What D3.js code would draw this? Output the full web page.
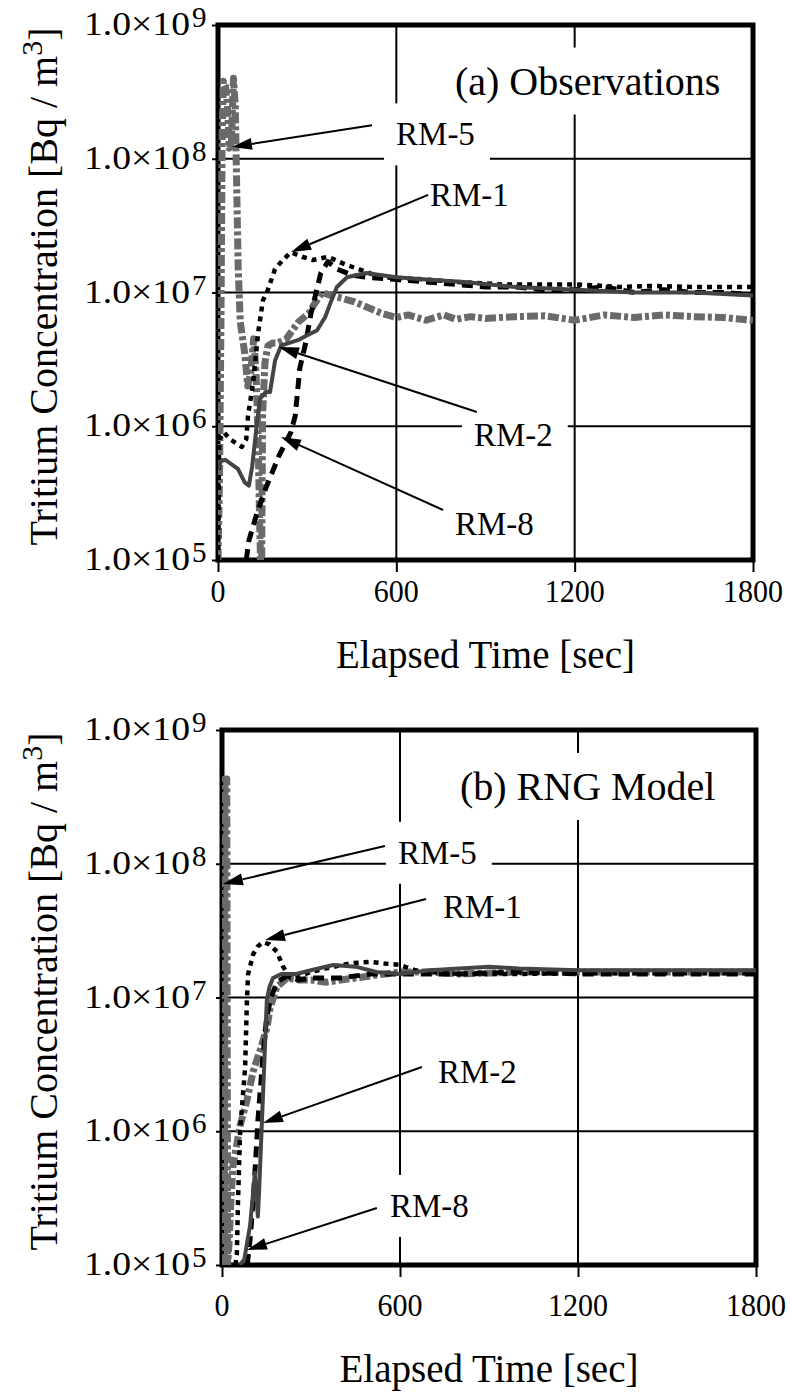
<!DOCTYPE html>
<html>
<head>
<meta charset="utf-8">
<script src="https://cdn.jsdelivr.net/npm/d3@7"></script>
<style>
  body { margin: 0; background: #fff; }
  text { font-family: "Liberation Serif", "DejaVu Serif", serif; fill: #000; }
</style>
</head>
<body>
<div id="chart"></div>
<script>
// tick values shared by both panels
var xTicks = [0, 600, 1200, 1800];
var yTicks = [1e5, 1e6, 1e7, 1e8, 1e9];
var seriesNames = ["RM-5", "RM-8", "RM-1", "RM-2"];

// (a) observations, [elapsed sec, Bq/m3]
var obsRM1 = [[0,1e5],[4,8e5],[20,9e5],[40,8e5],[60,7.5e5],[80,7e5],[95,8e5],[101,1.2e6],[118,2.1e6],[135,5e6],[151,8.7e6],
  [168,1.05e7],[192,1.5e7],[218,1.75e7],[245,2e7],[283,1.85e7],[320,1.75e7],[370,1.85e7],[420,1.65e7],[471,1.5e7],
  [548,1.3e7],[700,1.25e7],[800,1.2e7],[955,1.15e7],[1100,1.15e7],[1208,1.15e7],[1350,1.1e7],[1460,1.12e7],[1600,1.1e7],[1800,1.1e7]];
var obsRM2 = [[0,4.7e5],[10,5.5e5],[25,5.6e5],[40,5.3e5],[67,4.8e5],[90,3.8e5],[104,3.6e5],[115,5e5],[125,8e5],[130,1e6],
  [141,1.6e6],[160,1.8e6],[175,1.8e6],[192,3.1e6],[212,4e6],[240,4.2e6],[269,4.4e6],[300,4.8e6],[333,5.2e6],[350,6e6],
  [360,6.5e6],[384,9e6],[400,1.1e7],[434,1.3e7],[498,1.4e7],[600,1.3e7],[700,1.25e7],[828,1.2e7],[1000,1.1e7],
  [1208,1.05e7],[1400,1e7],[1600,1e7],[1800,9.5e6]];
var obsRM5 = [[0,1e5],[5,4e5],[10,6e6],[14,1.5e8],[18,3.8e8],[25,3.5e8],[32,2.5e8],[38,1.2e8],[45,1.3e8],[52,4e8],[58,2.5e8],
  [63,6e7],[68,1.5e7],[75,6e6],[90,3.5e6],[100,2e6],[110,2.5e6],[120,4.5e6],[128,2.5e6],[135,8e5],[140,2e5],[143,1e5],
  [147,1e5],[150,1.2e6],[158,3e6],[168,4e6],[185,4.2e6],[200,4.2e6],[230,4.5e6],[270,6e6],[306,7e6],[321,8e6],[350,1e7],
  [380,9.5e6],[420,9e6],[460,8.5e6],[500,7.8e6],[550,7e6],[600,6.5e6],[640,6.8e6],[700,6.2e6],[760,6.8e6],[800,6.3e6],
  [850,6.6e6],[900,6.4e6],[1000,6.6e6],[1100,6.7e6],[1200,6.2e6],[1300,6.8e6],[1400,6.5e6],[1500,6.8e6],[1600,6.6e6],
  [1700,6.5e6],[1800,6.2e6]];
var obsRM8 = [[95,1e5],[104,1.4e5],[130,2.2e5],[162,3.5e5],[205,6e5],[245,9e5],[260,1.2e6],[275,2.7e6],[295,4.2e6],[313,7e6],
  [330,1e7],[346,1.4e7],[370,1.7e7],[400,1.5e7],[450,1.35e7],[500,1.3e7],[600,1.25e7],[700,1.2e7],[800,1.15e7],[900,1.1e7],
  [1000,1.1e7],[1100,1.05e7],[1200,1.05e7],[1300,1.1e7],[1400,1e7],[1500,1.05e7],[1600,1e7],[1700,1e7],[1800,9.6e6]];

// (b) RNG model
var rngRM1 = [[45,1e5],[50,1.2e5],[54,3e5],[61,1e6],[78,3e6],[84,9.5e6],[88,1.5e7],[105,2.1e7],[120,2.4e7],[138,2.6e7],
  [160,2.5e7],[185,2.2e7],[206,1.7e7],[229,1.4e7],[260,1.45e7],[300,1.55e7],[350,1.65e7],[431,1.8e7],[500,1.85e7],
  [543,1.8e7],[600,1.75e7],[650,1.6e7],[700,1.55e7],[800,1.5e7],[1000,1.5e7],[1200,1.52e7],[1500,1.52e7],[1800,1.52e7]];
var rngRM2 = [[60,1e5],[75,1.1e5],[95,2e5],[111,4.9e5],[117,3e5],[121,2.3e5],[126,4e5],[134,1.1e6],[142,3e6],[151,9.5e6],
  [160,1.2e7],[172,1.4e7],[200,1.5e7],[250,1.5e7],[300,1.6e7],[375,1.75e7],[450,1.7e7],[520,1.55e7],[600,1.5e7],[700,1.6e7],
  [800,1.65e7],[900,1.7e7],[1000,1.65e7],[1200,1.6e7],[1500,1.6e7],[1800,1.6e7]];
var rngRM5 = [[8,1e5],[10,4.3e8],[16,4.3e8],[19,1e5],[24,1.5e5],[30,3e5],[37,5.5e5],[61,1.1e6],[84,1.7e6],[105,2.8e6],
  [128,4e6],[152,6e6],[162,8.3e6],[185,1.2e7],[219,1.4e7],[260,1.35e7],[300,1.35e7],[350,1.3e7],[400,1.35e7],[450,1.4e7],
  [500,1.45e7],[550,1.5e7],[600,1.55e7],[700,1.55e7],[800,1.5e7],[1000,1.55e7],[1200,1.55e7],[1500,1.55e7],[1800,1.55e7]];
var rngRM8 = [[85,1e5],[94,1.5e5],[105,3e5],[115,7e5],[121,1.2e6],[135,3e6],[150,7e6],[165,1e7],[185,1.3e7],[219,1.45e7],
  [260,1.35e7],[300,1.4e7],[400,1.4e7],[500,1.5e7],[600,1.5e7],[800,1.5e7],[1000,1.55e7],[1200,1.5e7],[1500,1.5e7],[1800,1.5e7]];

// label annotations: text start, arrow tail, arrow tip as [sec, log10 value]
var obsLabels = [
  { name: "RM-5", text: [599, 8.10], tail: [518, 8.25], tip: [47, 8.088] },
  { name: "RM-1", text: [713, 7.65], tail: [707, 7.73], tip: [246, 7.303] },
  { name: "RM-2", text: [861, 5.85], tail: [871, 6.107], tip: [205, 6.593] },
  { name: "RM-8", text: [797, 5.19], tail: [757, 5.374], tip: [212, 5.92] }
];
var rngLabels = [
  { name: "RM-5", text: [593, 8.00], tail: [549, 8.133], tip: [3, 7.849] },
  { name: "RM-1", text: [745, 7.594], tail: [688, 7.736], tip: [145, 7.43] },
  { name: "RM-2", text: [728, 6.361], tail: [674, 6.48], tip: [138, 6.062] },
  { name: "RM-8", text: [566, 5.359], tail: [522, 5.426], tip: [84, 5.112] }
];

var config = {
    width: 790,
    height: 1393,
    styles: {
        "RM-1": { color: "#000", width: 4.5, dash: "5,5" },
        "RM-2": { color: "#444", width: 4, dash: null },
        "RM-5": { color: "#6a6a6a", width: 7, dash: "11,3,4,3" },
        "RM-8": { color: "#000", width: 5, dash: "11,7" }
    },
    frameWidth: 5,
    gridWidth: 2,
    tickLabelRight: 190,
    yTitleX: 57
};

var panels = [
    { id: "a", title: "(a) Observations", titlePos: [797, 8.48],
      left: 218, right: 753, top: 25, bottom: 560, xLabelY: 602, xTitleY: 668,
      data: { "RM-1": obsRM1, "RM-2": obsRM2, "RM-5": obsRM5, "RM-8": obsRM8 }, labels: obsLabels },
    { id: "b", title: "(b) RNG Model", titlePos: [802, 8.477],
      left: 222, right: 756, top: 730, bottom: 1265, xLabelY: 1316, xTitleY: 1382,
      data: { "RM-1": rngRM1, "RM-2": rngRM2, "RM-5": rngRM5, "RM-8": rngRM8 }, labels: rngLabels }
];

var svg = d3.select("#chart").append("svg")
    .attr("width", config.width)
    .attr("height", config.height);

// white box behind a text so gridlines are broken around it
function boxBehind(g, textSel, up, down) {
    var bb = textSel.node().getBBox();
    var base = +textSel.attr("y");
    g.insert("rect", function () { return textSel.node(); })
        .attr("x", bb.x - 12).attr("y", base - up)
        .attr("width", bb.width + 27).attr("height", up + down)
        .attr("fill", "#fff");
}

function arrow(g, x1, y1, x2, y2) {
    var ang = Math.atan2(y2 - y1, x2 - x1);
    var len = 20, half = 6;
    var bx = x2 - len * Math.cos(ang), by = y2 - len * Math.sin(ang);
    g.append("line")
        .attr("x1", x1).attr("y1", y1).attr("x2", bx).attr("y2", by)
        .attr("stroke", "#000").attr("stroke-width", 2);
    var px = -Math.sin(ang) * half, py = Math.cos(ang) * half;
    g.append("path")
        .attr("d", "M" + x2 + "," + y2 + "L" + (bx + px) + "," + (by + py) + "L" + (bx - px) + "," + (by - py) + "Z")
        .attr("fill", "#000");
}

function draw(p) {
    var x = d3.scaleLinear().domain([0, 1800]).range([p.left, p.right]);
    var y = d3.scaleLog().domain([1e5, 1e9]).range([p.bottom, p.top]);
    var g = svg.append("g");

    // grid
    g.append("g").selectAll("line.h").data(yTicks.slice(1, -1)).enter().append("line")
        .attr("x1", p.left).attr("x2", p.right)
        .attr("y1", function (d) { return y(d); }).attr("y2", function (d) { return y(d); })
        .attr("stroke", "#000").attr("stroke-width", config.gridWidth);
    g.append("g").selectAll("line.v").data(xTicks.slice(1, -1)).enter().append("line")
        .attr("y1", p.top).attr("y2", p.bottom)
        .attr("x1", function (d) { return x(d); }).attr("x2", function (d) { return x(d); })
        .attr("stroke", "#000").attr("stroke-width", config.gridWidth);

    // axes ticks
    var xAxis = g.append("g").attr("transform", "translate(0," + p.bottom + ")")
        .call(d3.axisBottom(x).tickValues(xTicks).tickSize(12).tickFormat(""));
    xAxis.select(".domain").remove();
    xAxis.selectAll("line").attr("stroke-width", 2);
    var yAxis = g.append("g").attr("transform", "translate(" + p.left + ",0)")
        .call(d3.axisLeft(y).tickValues(yTicks).tickSize(6).tickFormat(""));
    yAxis.select(".domain").remove();
    yAxis.selectAll("line").attr("stroke-width", 2);

    // frame
    g.append("rect")
        .attr("x", p.left).attr("y", p.top)
        .attr("width", p.right - p.left).attr("height", p.bottom - p.top)
        .attr("fill", "none").attr("stroke", "#000").attr("stroke-width", config.frameWidth);

    // series
    g.append("clipPath").attr("id", "clip-" + p.id).append("rect")
        .attr("x", p.left).attr("y", p.top)
        .attr("width", p.right - p.left).attr("height", p.bottom - p.top);
    var line = d3.line()
        .x(function (d) { return x(d[0]); })
        .y(function (d) { return y(d[1]); });
    var sg = g.append("g").attr("clip-path", "url(#clip-" + p.id + ")");
    seriesNames.forEach(function (name) {
        var st = config.styles[name];
        sg.append("path")
            .datum(p.data[name])
            .attr("d", line)
            .attr("fill", "none")
            .attr("stroke", st.color)
            .attr("stroke-width", st.width)
            .attr("stroke-dasharray", st.dash)
            .attr("stroke-linejoin", "round");
    });

    // tick labels
    var lab = g.append("g");
    xTicks.forEach(function (t) {
        var s = String(t);
        lab.append("text")
            .attr("x", x(t)).attr("y", p.xLabelY)
            .attr("text-anchor", "middle")
            .attr("font-size", 32)
            .attr("textLength", 15 * s.length)
            .attr("lengthAdjust", "spacingAndGlyphs")
            .text(s);
    });
    yTicks.forEach(function (v) {
        var e = Math.round(Math.log10(v));
        lab.append("text")
            .attr("x", config.tickLabelRight).attr("y", y(v) + 10)
            .attr("text-anchor", "end")
            .attr("font-size", 34)
            .attr("textLength", 106)
            .attr("lengthAdjust", "spacingAndGlyphs")
            .text("1.0\u00d710");
        lab.append("text")
            .attr("x", config.tickLabelRight + 2).attr("y", y(v) + 2)
            .attr("font-size", 29)
            .text(e);
    });

    // axis titles
    lab.append("text")
        .attr("x", (p.left + p.right) / 2).attr("y", p.xTitleY)
        .attr("text-anchor", "middle").attr("font-size", 39)
        .text("Elapsed Time [sec]");
    var yt = lab.append("text")
        .attr("transform", "translate(" + config.yTitleX + "," + ((p.top + p.bottom) / 2 - 6) + ") rotate(-90)")
        .attr("text-anchor", "middle").attr("font-size", 40);
    yt.append("tspan").text("Tritium Concentration [Bq / m");
    yt.append("tspan").attr("dy", -15).attr("font-size", 30).text("3");
    yt.append("tspan").attr("dy", 15).text("]");

    // panel title
    var ann = g.append("g");
    var title = ann.append("text")
        .attr("x", x(p.titlePos[0])).attr("y", y(Math.pow(10, p.titlePos[1])))
        .attr("font-size", 40)
        .text(p.title);
    boxBehind(ann, title, 47, 20);

    // series labels with arrows
    p.labels.forEach(function (l) {
        var t = ann.append("text")
            .attr("x", x(l.text[0])).attr("y", y(Math.pow(10, l.text[1])))
            .attr("font-size", 33)
            .text(l.name);
        boxBehind(ann, t, 42, 20);
        arrow(ann, x(l.tail[0]), y(Math.pow(10, l.tail[1])), x(l.tip[0]), y(Math.pow(10, l.tip[1])));
    });
}

panels.forEach(draw);
</script>
</body>
</html>
